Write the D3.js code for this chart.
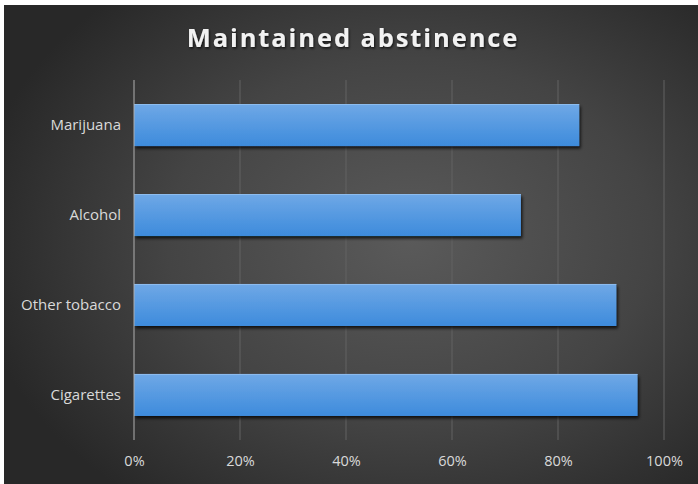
<!DOCTYPE html>
<html><head><meta charset="utf-8">
<script src="https://cdn.jsdelivr.net/npm/d3@7"></script>
<style>
html,body{margin:0;padding:0;background:#fff;}
svg{display:block;}
</style></head>
<body>
<script>
const categories = ["Marijuana", "Alcohol", "Other tobacco", "Cigarettes"];
const values = [0.84, 0.73, 0.91, 0.95];
const tickValues = [0, 0.2, 0.4, 0.6, 0.8, 1.0];
const title = "Maintained abstinence";

const W = 698, H = 484;
const svg = d3.select("body").append("svg").attr("width", W).attr("height", H);
const defs = svg.append("defs");

const bg = defs.append("radialGradient").attr("id","bg")
  .attr("gradientUnits","userSpaceOnUse").attr("cx",410).attr("cy",240).attr("r",440)
  .attr("gradientTransform","translate(410,240) scale(1,0.75) translate(-410,-240)");
bg.append("stop").attr("offset","0%").attr("stop-color","#5a5a5a");
bg.append("stop").attr("offset","55%").attr("stop-color","#444");
bg.append("stop").attr("offset","100%").attr("stop-color","#282828");

const bar = defs.append("linearGradient").attr("id","bar").attr("x1",0).attr("y1",0).attr("x2",0).attr("y2",1);
bar.append("stop").attr("offset","0%").attr("stop-color","#6fa8e6");
bar.append("stop").attr("offset","100%").attr("stop-color","#3d8bdc");

const sh = defs.append("filter").attr("id","sh").attr("x","-5%").attr("y","-20%").attr("width","115%").attr("height","160%");
sh.append("feDropShadow").attr("dx",1.5).attr("dy",2.5).attr("stdDeviation",1.8).attr("flood-color","#000").attr("flood-opacity",0.75);

const tsh = defs.append("filter").attr("id","tsh");
tsh.append("feDropShadow").attr("dx",1).attr("dy",1.5).attr("stdDeviation",1).attr("flood-color","#000").attr("flood-opacity",0.7);

svg.append("rect").attr("x",4).attr("y",5).attr("width",W-4).attr("height",H-5).attr("fill","url(#bg)");

const x = d3.scaleLinear().domain([0,1]).range([134, 664]);
const y = d3.scaleBand().domain(categories).range([80, 440]).paddingInner(0.533).paddingOuter(0.267);

// gridlines
svg.append("g").selectAll("line").data(tickValues.slice(1)).join("line")
  .attr("x1",d=>x(d)).attr("x2",d=>x(d)).attr("y1",80).attr("y2",440)
  .attr("stroke","#626262").attr("stroke-width",1);

// bars
svg.append("g").selectAll("rect").data(categories).join("rect")
  .attr("x",x(0)).attr("y",d=>y(d)).attr("height",y.bandwidth())
  .attr("width",(d,i)=>x(values[i])-x(0))
  .attr("fill","url(#bar)").attr("filter","url(#sh)");
svg.append("g").selectAll("line").data(categories).join("line")
  .attr("x1",x(0)).attr("x2",(d,i)=>x(values[i])).attr("y1",d=>y(d)+0.5).attr("y2",d=>y(d)+0.5)
  .attr("stroke","#8dbcee").attr("stroke-width",1);

// zero axis line
svg.append("line").attr("x1",x(0)).attr("x2",x(0)).attr("y1",80).attr("y2",440)
  .attr("stroke","#b0b0b0").attr("stroke-width",1);

// x axis
const xAxis = d3.axisBottom(x).tickValues(tickValues).tickFormat(d3.format(".0%")).tickSize(0).tickPadding(0);
const gx = svg.append("g").attr("transform","translate(0,456)").call(xAxis);
gx.select(".domain").remove();
gx.selectAll("text").attr("fill","#d9d9d9").attr("font-family","'Open Sans', sans-serif").attr("font-size",14.5).attr("dy","0.71em");

// y axis
const yAxis = d3.axisLeft(y).tickSize(0).tickPadding(0);
const gy = svg.append("g").attr("transform","translate(121,0)").call(yAxis);
gy.select(".domain").remove();
gy.selectAll("text").attr("fill","#d9d9d9").attr("font-family","'Open Sans', sans-serif").attr("font-size",15);

svg.append("text").attr("x",353).attr("y",47).attr("text-anchor","middle")
  .attr("fill","#f2f2f2").attr("font-family","'Open Sans', sans-serif").attr("font-weight","bold")
  .attr("font-size",25.5).attr("letter-spacing",1.9).attr("filter","url(#tsh)").text(title);
</script>
</body></html>
